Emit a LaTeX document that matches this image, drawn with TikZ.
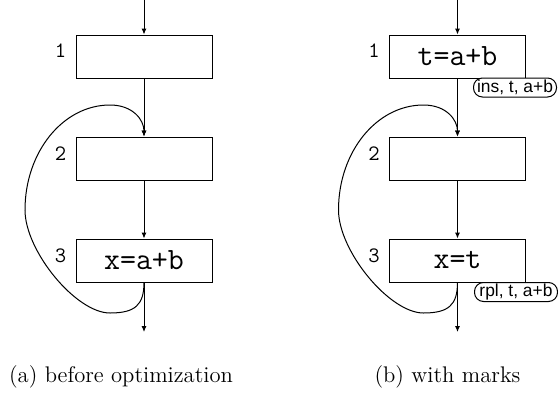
\documentclass[tikz,border=0pt]{standalone}
\usepackage{fontspec}
\setsansfont{Liberation Sans}
\usetikzlibrary{arrows.meta}
\tikzset{
  blk/.style={draw, line width=0.5pt, minimum width=68pt, minimum height=21.5pt, inner sep=0pt,
    font=\ttfamily\fontsize{15.5}{17}\selectfont},
  lbl/.style={inner sep=0pt, font=\ttfamily\fontsize{11}{12}\selectfont},
  marknode/.style={draw, fill=white, line width=0.5pt, rounded corners=4.5pt, minimum width=41.5pt,
    minimum height=9.5pt, inner sep=0pt, font=\sffamily\fontsize{8.7}{10}\selectfont},
  arr/.style={line width=0.5pt, -{Latex[length=3pt,width=2.6pt]}},
  captext/.style={anchor=base, inner sep=0pt, font=\fontsize{11.3}{13}\selectfont}
}
\begin{document}
\begin{tikzpicture}[x=0.5pt, y=-0.5pt]
\useasboundingbox (0,0) rectangle (558,392);
% (a)
\begin{scope}
  \coordinate (ain) at (144,0);
  \coordinate (aout) at (144,332);
  \node[blk] (a1) at (144,56.5) {};
  \node[blk] (a2) at (144,158.5) {};
  \node[blk] (a3) at (144,260.5) {x=a+b};
  \node[lbl] (al1) at ([shift={(-15,16)}]a1.north west) {1};
  \node[lbl] (al2) at ([shift={(-15,17)}]a2.north west) {2};
  \node[lbl] (al3) at ([shift={(-15,17)}]a3.north west) {3};
  \draw[arr] (ain) -- (a1);
  \draw[arr] (a1) -- (a2);
  \draw[arr] (a2) -- (a3);
  \draw[arr] (a3) -- (aout);
  \draw[arr] (a3.south) .. controls (144,305) and (135,313) .. (110,313)
     .. controls (76,313) and (25,251) .. (25,210)
     .. controls (25,152) and (63,105) .. (110,105)
     .. controls (133,105) and (144,120) .. (a2.north);
  \node[captext] (acap) at (121,382) {(a) before optimization};
\end{scope}
% (b)
\begin{scope}[shift={(313.5,0)}]
  \coordinate (bin) at (144,0);
  \coordinate (bout) at (144,332);
  \node[blk] (b1) at (144,56.5) {t=a+b};
  \node[blk] (b2) at (144,158.5) {};
  \node[blk] (b3) at (144,260.5) {x=t};
  \node[lbl] (bl1) at ([shift={(-15,16)}]b1.north west) {1};
  \node[lbl] (bl2) at ([shift={(-15,17)}]b2.north west) {2};
  \node[lbl] (bl3) at ([shift={(-15,17)}]b3.north west) {3};
  \draw[arr] (bin) -- (b1);
  \draw[arr] (b1) -- (b2);
  \draw[arr] (b2) -- (b3);
  \draw[arr] (b3) -- (bout);
  \draw[arr] (b3.south) .. controls (144,305) and (135,313) .. (110,313)
     .. controls (76,313) and (25,251) .. (25,210)
     .. controls (25,152) and (63,105) .. (110,105)
     .. controls (133,105) and (144,120) .. (b2.north);
  \node[marknode] (m1) at (201.5,87.5) {ins, t, a+b};
  \node[marknode] (m2) at (202.5,292) {rpl, t, a+b};
  \node[captext] (bcap) at (134,382) {(b) with marks};
\end{scope}
\end{tikzpicture}
\end{document}
